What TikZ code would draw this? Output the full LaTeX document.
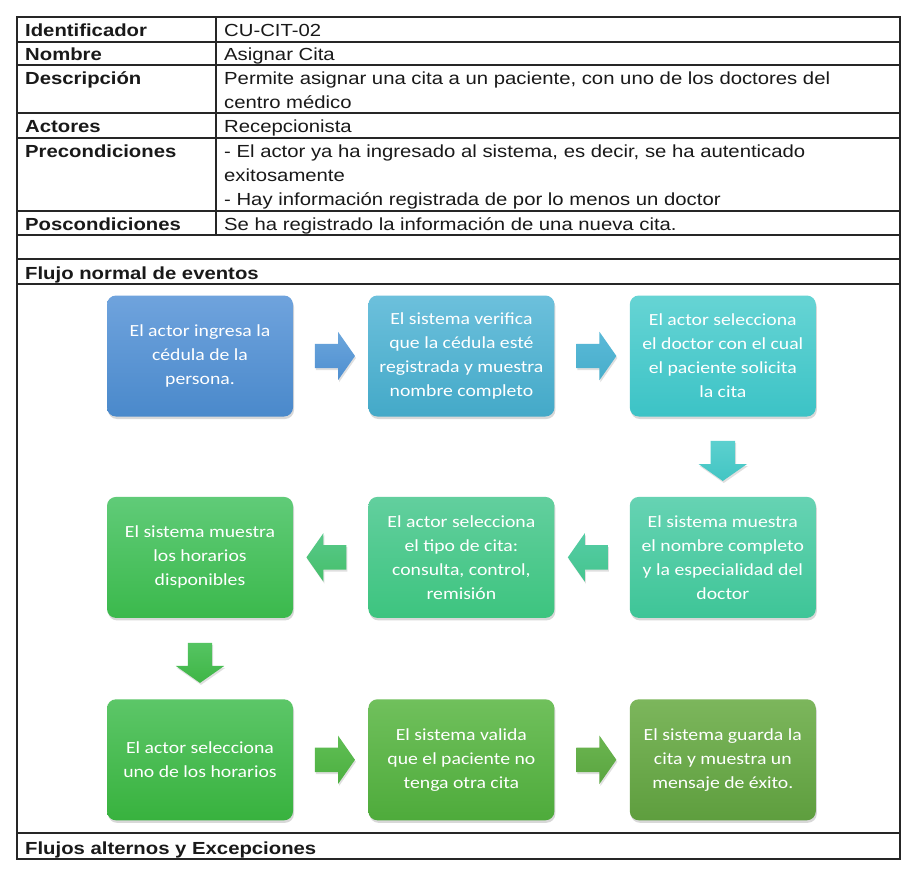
\documentclass[tikz,border=0pt]{standalone}
\usepackage{fontspec}
\setmainfont{Liberation Sans}[FakeStretch=1.16]
\newfontfamily\boxfont{Carlito}[FakeStretch=1.16]
\usetikzlibrary{positioning,calc,shapes.arrows,shadows}

\tikzset{
  paso/.style={rounded corners=9pt, minimum width=186pt, minimum height=121pt,
    inner sep=2pt, align=center, text=white,
    font=\boxfont\fontsize{17}{24}\selectfont,
    drop shadow={opacity=0.3, shadow xshift=1pt, shadow yshift=-2.5pt}},
  flecha/.style={single arrow, minimum height=40pt, inner sep=12pt,
    single arrow head extend=12pt, single arrow tip angle=110,
    drop shadow={opacity=0.25, shadow xshift=1pt, shadow yshift=-2pt}},
  celda/.style={anchor=base west, inner sep=0pt, align=left, text=black!90,
    font=\fontsize{17.5}{24}\selectfont},
  titulo/.style={celda, font=\fontsize{17.5}{24}\selectfont\bfseries},
  borde/.style={line width=1.2pt, black!85},
}

\begin{document}
\begin{tikzpicture}[x=1pt,y=-1pt]
    \useasboundingbox (0,0) rectangle (912,877);
    % Tabla
    \fill[white] (0,0) rectangle (912,877);
    \draw[borde] (17,17) rectangle (900,859);
    \foreach \y in {42,65,113,138,211,235,259,284,833}
        \draw[borde] (17,\y) -- (900,\y);
    \draw[borde] (216,17) -- (216,235);
    \node[titulo] (lid) at (25,37) {Identificador};
    \node[celda] (vid) at (224,37) {CU-CIT-02};
    \node[titulo] (lnom) at (25,61) {Nombre};
    \node[celda] (vnom) at (224,61) {Asignar Cita};
    \node[titulo] (ldes) at (25,85) {Descripción};
    % base = ultima linea
    \node[celda] (vdes) at (224,109) {Permite asignar una cita a un paciente, con uno de los doctores del\\centro médico};
    \node[titulo] (lact) at (25,133) {Actores};
    \node[celda] (vact) at (224,133) {Recepcionista};
    \node[titulo] (lpre) at (25,158) {Precondiciones};
    \node[celda] (vpre) at (224,206) {- El actor ya ha ingresado al sistema, es decir, se ha autenticado\\exitosamente\\- Hay información registrada de por lo menos un doctor};
    \node[titulo] (lpos) at (25,231) {Poscondiciones};
    \node[celda] (vpos) at (224,231) {Se ha registrado la información de una nueva cita.};
    \node[titulo] (lflu) at (25,279) {Flujo normal de eventos};
    \node[titulo] (lalt) at (25,854) {Flujos alternos y Excepciones};
    % Pasos
    \node[paso, top color={rgb,255:red,111;green,163;blue,221}, bottom color={rgb,255:red,74;green,137;blue,203}] (c1) at (200,356)
        {El actor ingresa la\\cédula de la\\persona.};
    \node[paso, top color={rgb,255:red,108;green,192;blue,220}, bottom color={rgb,255:red,68;green,169;blue,200}, right=75pt of c1] (c2)
        {El sistema verifica\\que la cédula esté\\registrada y muestra\\nombre completo};
    \node[paso, top color={rgb,255:red,102;green,212;blue,212}, bottom color={rgb,255:red,60;green,195;blue,198}, right=75pt of c2] (c3)
        {El actor selecciona\\el doctor con el cual\\el paciente solicita\\la cita};
    \node[paso, top color={rgb,255:red,102;green,211;blue,179}, bottom color={rgb,255:red,62;green,197;blue,151}, below=80pt of c3] (c6)
        {El sistema muestra\\el nombre completo\\y la especialidad del\\doctor};
    \node[paso, top color={rgb,255:red,98;green,207;blue,158}, bottom color={rgb,255:red,61;green,196;blue,127}, left=75pt of c6] (c5)
        {El actor selecciona\\el tipo de cita:\\consulta, control,\\remisión};
    \node[paso, top color={rgb,255:red,96;green,203;blue,120}, bottom color={rgb,255:red,59;green,185;blue,76}, left=75pt of c5] (c4)
        {El sistema muestra\\los horarios\\disponibles};
    \node[paso, top color={rgb,255:red,92;green,198;blue,104}, bottom color={rgb,255:red,56;green,178;blue,62}, below=81pt of c4] (c7)
        {El actor selecciona\\uno de los horarios};
    \node[paso, top color={rgb,255:red,112;green,192;blue,92}, bottom color={rgb,255:red,78;green,171;blue,59}, right=75pt of c7] (c8)
        {El sistema valida\\que el paciente no\\tenga otra cita};
    \node[paso, top color={rgb,255:red,124;green,182;blue,92}, bottom color={rgb,255:red,94;green,158;blue,62}, right=75pt of c8] (c9)
        {El sistema guarda la\\cita y muestra un\\mensaje de éxito.};
    % Flechas
    \node[flecha, top color={rgb,255:red,107;green,166;blue,220}, bottom color={rgb,255:red,79;green,143;blue,208}] (f12) at ($(c1.east)!0.5!(c2.west)$) {};
    \node[flecha, top color={rgb,255:red,90;green,185;blue,216}, bottom color={rgb,255:red,72;green,174;blue,203}] (f23) at ($(c2.east)!0.5!(c3.west)$) {};
    \node[flecha, shape border rotate=270, top color={rgb,255:red,91;green,208;blue,207}, bottom color={rgb,255:red,67;green,197;blue,195}] (f36) at ($(c3.south)!0.5!(c6.north)$) {};
    \node[flecha, shape border rotate=180, top color={rgb,255:red,85;green,204;blue,165}, bottom color={rgb,255:red,69;green,197;blue,142}] (f65) at ($(c6.west)!0.5!(c5.east)$) {};
    \node[flecha, shape border rotate=180, top color={rgb,255:red,88;green,201;blue,138}, bottom color={rgb,255:red,69;green,191;blue,106}] (f54) at ($(c5.west)!0.5!(c4.east)$) {};
    \node[flecha, shape border rotate=270, top color={rgb,255:red,85;green,196;blue,98}, bottom color={rgb,255:red,63;green,182;blue,70}] (f47) at ($(c4.south)!0.5!(c7.north)$) {};
    \node[flecha, top color={rgb,255:red,96;green,190;blue,85}, bottom color={rgb,255:red,76;green,176;blue,64}] (f78) at ($(c7.east)!0.5!(c8.west)$) {};
    \node[flecha, top color={rgb,255:red,107;green,181;blue,80}, bottom color={rgb,255:red,90;green,165;blue,64}] (f89) at ($(c8.east)!0.5!(c9.west)$) {};
\end{tikzpicture}
\end{document}
